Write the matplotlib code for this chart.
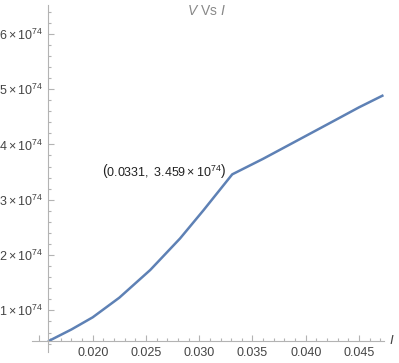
import matplotlib
matplotlib.use('Agg')
import matplotlib.pyplot as plt
from matplotlib.ticker import MultipleLocator, FixedLocator

plt.rcParams["font.family"] = ["Liberation Sans", "DejaVu Sans"]
plt.rcParams["mathtext.fontset"] = "custom"
plt.rcParams["mathtext.rm"] = "Liberation Sans"
plt.rcParams["mathtext.it"] = "Liberation Sans:italic"

# I (x) vs V (y, in units of 1e74)
i_vals = [0.0158, 0.0180, 0.0200, 0.0225, 0.0254, 0.0282, 0.0304, 0.0331,
          0.0360, 0.0392, 0.0423, 0.0450, 0.0473]
v_vals = [0.44, 0.655, 0.875, 1.23, 1.73, 2.30, 2.81, 3.459,
          3.74, 4.07, 4.39, 4.67, 4.89]

kink_i = 0.0331
kink_v = 3.459

x_ticks = [0.015, 0.020, 0.025, 0.030, 0.035, 0.040, 0.045]
x_labels = ["", "0.020", "0.025", "0.030", "0.035", "0.040", "0.045"]
y_ticks = [1, 2, 3, 4, 5, 6]
y_labels = [r"$%d\times10^{74}$" % v for v in y_ticks]

AXIS_GREY = "#b3b3b3"
LABEL_GREY = "#444444"

fig = plt.figure(figsize=(3.99, 3.63), dpi=100)
ax = fig.add_axes([32 / 399, 11 / 363, 352 / 399, 347 / 363])

ax.plot(i_vals, v_vals, color="#5e81b5", lw=1.8, solid_joinstyle="round",
        solid_capstyle="butt")

ax.set_xlim(0.0143, 0.04735)
ax.set_ylim(0.248, 6.52)

for s in ["top", "right"]:
    ax.spines[s].set_visible(False)
ax.spines["left"].set_position(("data", 0.0158))
ax.spines["bottom"].set_position(("data", 0.44))
for s in ["left", "bottom"]:
    ax.spines[s].set_color(AXIS_GREY)
    ax.spines[s].set_linewidth(0.8)

ax.xaxis.set_major_locator(FixedLocator(x_ticks))
ax.set_xticklabels(x_labels)
ax.xaxis.set_minor_locator(MultipleLocator(0.001))
ax.yaxis.set_major_locator(FixedLocator(y_ticks))
ax.set_yticklabels(y_labels)
ax.yaxis.set_minor_locator(MultipleLocator(0.2))

ax.tick_params(which="both", direction="in", color=AXIS_GREY, width=0.8,
               labelcolor=LABEL_GREY, labelsize=9)
ax.tick_params(which="major", length=4, pad=4)
ax.tick_params(which="minor", length=2.2)

ax.annotate(r"$\left(0.0331,\ 3.459\times10^{74}\right)$", xy=(kink_i, kink_v),
            xytext=(-6, 3), textcoords="offset pixels", ha="right", va="center",
            fontsize=9, color="#222222")

fig.text(392 / 399, 1 - 340 / 363, r"$I$", fontsize=9.5, color=LABEL_GREY,
         ha="center", va="center")
fig.text(206 / 399, 1 - 11 / 363, r"$V$ Vs $I$", fontsize=10, color="#888888",
         ha="center", va="center")

fig.savefig("out.png", dpi=100)
